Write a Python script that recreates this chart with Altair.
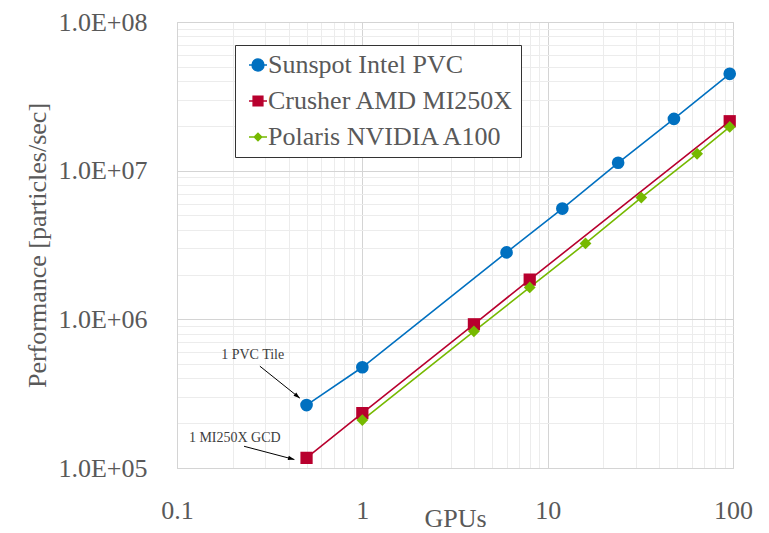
import altair as alt
import pandas as pd

# ---------------- data ----------------
series_names = ["Sunspot Intel PVC", "Crusher AMD MI250X", "Polaris NVIDIA A100"]
series_colors = ["#0070c0", "#b8002e", "#76b900"]

sunspot_gpus = [0.5, 1, 6, 12, 24, 48, 96]
sunspot_perf = [2.65e5, 4.76e5, 2.82e6, 5.56e6, 1.13e7, 2.23e7, 4.48e7]

crusher_gpus = [0.5, 1, 4, 8, 96]
crusher_perf = [1.17e5, 2.34e5, 9.26e5, 1.85e6, 2.15e7]

polaris_gpus = [1, 4, 8, 16, 32, 64, 96]
polaris_perf = [2.1e5, 8.3e5, 1.64e6, 3.24e6, 6.59e6, 1.30e7, 1.97e7]

x_major = [0.1, 1, 10, 100]
x_tick_labels = ["0.1", "1", "10", "100"]
y_major = [1e5, 1e6, 1e7, 1e8]
y_tick_labels = ["1.0E+05", "1.0E+06", "1.0E+07", "1.0E+08"]

# annotations
ann_text = ["1 PVC Tile", "1 MI250X GCD"]
ann_text_x = [0.256, 0.205]
ann_text_y = [5.73e5, 1.6e5]
ann_from_x = [0.28, 0.23]
ann_from_y = [4.84e5, 1.40e5]
ann_to_x = [0.46, 0.43]
ann_to_y = [2.95e5, 1.14e5]
ann_angle = [129, 105]

# ---------------- tables ----------------
rows = []
for name, gx, gy in zip(series_names,
                        [sunspot_gpus, crusher_gpus, polaris_gpus],
                        [sunspot_perf, crusher_perf, polaris_perf]):
    for a, b in zip(gx, gy):
        rows.append({"gpus": a, "perf": b, "system": name})
df = pd.DataFrame(rows)

ann = pd.DataFrame({
    "text": ann_text, "tx": ann_text_x, "ty": ann_text_y,
    "fx": ann_from_x, "fy": ann_from_y, "ex": ann_to_x, "ey": ann_to_y,
    "angle": ann_angle,
})

def minor_values(majors):
    vals = []
    for m in majors[:-1]:
        for k in range(1, 10):
            vals.append(m * k)
    vals.append(majors[-1])
    return vals

def label_expr(majors, labels):
    expr = "''"
    for v, l in reversed(list(zip(majors, labels))):
        expr = f"abs(datum.value - {v}) < {v} * 1e-6 ? '{l}' : ({expr})"
    return expr

def grid_color(majors):
    test = " || ".join(f"abs(datum.value - {v}) < {v} * 1e-6" for v in majors)
    return {"condition": {"test": test, "value": "#d4d4d4"}, "value": "#ececec"}

FONT = "Liberation Serif"
TXT = "#595959"

xs = alt.Scale(type="log", domain=[0.1, 100], nice=False)
ys = alt.Scale(type="log", domain=[1e5, 1e8], nice=False)

x_enc = alt.X("gpus:Q", title="GPUs", scale=xs,
              axis=alt.Axis(values=minor_values(x_major),
                            labelExpr=label_expr(x_major, x_tick_labels),
                            gridColor=grid_color(x_major),
                            labelOverlap=False, labelFlush=False,
                            labelPadding=29, titleY=58,
                            titleBaseline="alphabetic"))
y_enc = alt.Y("perf:Q", title="Performance [particles/sec]", scale=ys,
              axis=alt.Axis(values=minor_values(y_major),
                            labelExpr=label_expr(y_major, y_tick_labels),
                            gridColor=grid_color(y_major),
                            labelOverlap=False, labelFlush=False,
                            labelPadding=30, titleX=-140,
                            titleBaseline="middle"))

color_scale = alt.Scale(domain=series_names, range=series_colors)

lines = alt.Chart(df).mark_line(strokeWidth=1.6).encode(
    x=x_enc, y=y_enc,
    color=alt.Color("system:N", scale=color_scale, legend=None),
)

points = alt.Chart(df).mark_point(filled=True, opacity=1).encode(
    x=x_enc, y=y_enc,
    color=alt.Color("system:N", scale=color_scale, legend=None),
    shape=alt.Shape("system:N", scale=alt.Scale(domain=series_names,
                                                range=["circle", "square", "diamond"]),
                    legend=None),
    size=alt.Size("system:N", scale=alt.Scale(domain=series_names,
                                              range=[160, 140, 70]),
                  legend=None),
)

legend_paths = [
    "M-1,0H1M0.67,0A0.67,0.67,0,1,1,-0.67,0A0.67,0.67,0,1,1,0.67,0Z",
    "M-1,0H1M-0.55,-0.55H0.55V0.55H-0.55Z",
    "M-1,0H1M0,-0.42L0.42,0L0,0.42L-0.42,0Z",
]

def make_legend():
    return alt.Legend(orient="none", legendX=58, legendY=23,
                      strokeColor="#333333", fillColor="white",
                      padding=7, rowPadding=10, symbolOffset=3,
                      symbolSize=324, symbolStrokeWidth=1.3,
                      labelFontSize=26, labelFont=FONT,
                      labelColor=TXT, labelOffset={"expr": "-3"},
                      labelLimit=400, title=None)

legend_layer = alt.Chart(df).transform_filter("false").mark_point(
    filled=True, opacity=1, strokeWidth=1.3
).encode(
    x=x_enc, y=y_enc,
    fill=alt.Fill("system:N", scale=alt.Scale(domain=series_names, range=series_colors),
                  title=None, legend=make_legend()),
    stroke=alt.Stroke("system:N", scale=alt.Scale(domain=series_names, range=series_colors),
                      title=None, legend=make_legend()),
    shape=alt.Shape("system:N", scale=alt.Scale(domain=series_names, range=legend_paths),
                    title=None, legend=make_legend()),
    size=alt.value(324),
)

ann_lines = alt.Chart(ann).mark_rule(color="#000000", strokeWidth=1).encode(
    x=alt.X("fx:Q", scale=xs), y=alt.Y("fy:Q", scale=ys),
    x2="ex:Q", y2="ey:Q",
)
ann_heads = alt.Chart(ann).mark_point(
    shape="M0,0L-0.55,1.6L0.55,1.6Z", filled=True, color="#000000", opacity=1, size=64
).encode(
    x=alt.X("ex:Q", scale=xs), y=alt.Y("ey:Q", scale=ys),
    angle=alt.Angle("angle:Q", scale=None),
)
ann_text_layer = alt.Chart(ann).mark_text(
    font=FONT, fontSize=14, color="#404040"
).encode(
    x=alt.X("tx:Q", scale=xs), y=alt.Y("ty:Q", scale=ys),
    text="text:N",
)

chart = alt.layer(
    lines, points, ann_lines, ann_heads, ann_text_layer, legend_layer
).resolve_scale(
    shape="independent", size="independent",
    fill="independent", stroke="independent",
).properties(
    width=556, height=446,
    autosize=alt.AutoSizeParams(type="none"),
    padding={"left": 177, "top": 22, "right": 36, "bottom": 65},
    background="white",
).configure_view(
    stroke="#d4d4d4", strokeWidth=1
).configure_axis(
    labelFont=FONT, titleFont=FONT, labelFontSize=26, titleFontSize=26,
    labelColor=TXT, titleColor=TXT, titleFontWeight="normal",
    ticks=False, domainColor="#d4d4d4", gridWidth=1,
)

chart.save("out.html", embed_options={"renderer": "svg", "actions": False})
